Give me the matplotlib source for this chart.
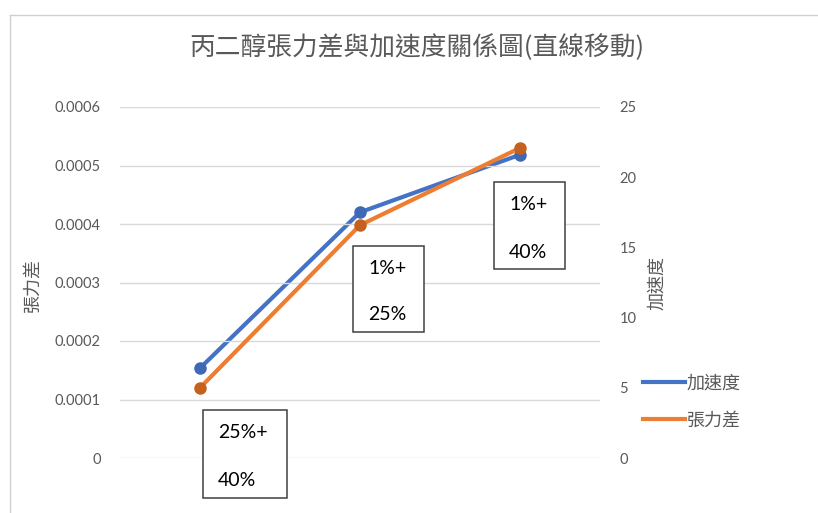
import matplotlib.pyplot as plt
from matplotlib.lines import Line2D
from matplotlib.patches import Rectangle

plt.rcParams['font.family'] = ['Noto Sans CJK TC', 'DejaVu Sans']

# data
categories = ['A', 'B', 'C']
tension = [0.00012, 0.000398, 0.00053]     # 張力差 (left axis)
accel = [6.4, 17.5, 21.6]                  # 加速度 (right axis)
box_labels = [('25%+', '40%'), ('1%+', '25%'), ('1%+', '40%')]
left_ticks = [0, 0.0001, 0.0002, 0.0003, 0.0004, 0.0005, 0.0006]
left_ticklabels = ['0', '0.0001', '0.0002', '0.0003', '0.0004', '0.0005', '0.0006']
right_ticks = [0, 5, 10, 15, 20, 25]

W, H = 818, 513
blue = '#4472C4'
orange = '#ED7D31'
gray = '#595959'
num_font = ['Lato', 'DejaVu Sans']

fig = plt.figure(figsize=(W / 100, H / 100), dpi=100)


def fx(px):
    return px / W


def fy(py):
    return 1 - py / H


ax = fig.add_axes([fx(120), fy(458), fx(600) - fx(120), fy(107) - fy(458)])
ax2 = ax.twinx()
ax.set_zorder(ax2.get_zorder() + 1)
ax.patch.set_visible(False)

x = range(len(categories))
ax2.plot(x, accel, color=blue, lw=3, marker='o', ms=8, mfc='#3F68B5', mec='#3F68B5', solid_capstyle='round')
ax.plot(x, tension, color=orange, lw=3, marker='o', ms=8, mfc='#C5611E', mec='#C5611E', solid_capstyle='round')

ax.set_xlim(-0.5, 2.5)
ax.set_ylim(0, 0.0006)
ax2.set_ylim(0, 25)
ax.set_xticks([])
ax.set_yticks(left_ticks)
ax.set_yticklabels(left_ticklabels, family=num_font, fontsize=10.5, color=gray)
ax2.set_yticks(right_ticks)
ax2.set_yticklabels([str(t) for t in right_ticks], family=num_font, fontsize=10.5, color=gray)
ax.tick_params(axis='y', length=0, pad=14)
ax2.tick_params(axis='y', length=0, pad=14)
ax.grid(axis='y', color='#D9D9D9', lw=1)
for a in (ax, ax2):
    for s in a.spines.values():
        s.set_visible(False)

fig.text(fx(32), fy(285), '張力差', rotation=90, ha='center', va='center', fontsize=13, color=gray)
fig.text(fx(657), fy(283), '加速度', rotation=90, ha='center', va='center', fontsize=13, color=gray)
fig.text(fx(417), fy(48), '丙二醇張力差與加速度關係圖(直線移動)', ha='center', va='center', fontsize=18.5,
         color=gray, fontweight='light')

# text boxes (pixel layout)
boxes = [(203, 410, 287, 498, 218, 433, 481),
         (353, 246, 424, 332, 368, 269, 315),
         (494, 182, 565, 269, 509, 205, 252)]
for (l, t, r, b, tx, y1, y2), (s1, s2) in zip(boxes, box_labels):
    fig.add_artist(Rectangle((fx(l), fy(b)), fx(r) - fx(l), fy(t) - fy(b), transform=fig.transFigure,
                             fc='white', ec='#404040', lw=1.1, zorder=5))
    fig.text(fx(tx), fy(y1), s1, ha='left', va='center', fontsize=14, family=num_font, color='black', zorder=6)
    fig.text(fx(tx), fy(y2), s2, ha='left', va='center', fontsize=14, family=num_font, color='black', zorder=6)

handles = [Line2D([], [], color=blue, lw=3), Line2D([], [], color=orange, lw=3)]
fig.legend(handles, ['加速度', '張力差'], loc='center left', bbox_to_anchor=(fx(627), fy(402)),
           frameon=False, fontsize=13, handlelength=2.3, handletextpad=0.1, labelspacing=1.05,
           labelcolor=gray)

# outer frame lines
fig.add_artist(Line2D([fx(10), 1], [fy(15), fy(15)], transform=fig.transFigure, color='#D0D0D0', lw=1))
fig.add_artist(Line2D([fx(10), fx(10)], [fy(15), 0], transform=fig.transFigure, color='#D0D0D0', lw=1))

fig.savefig('out.png', dpi=100)
